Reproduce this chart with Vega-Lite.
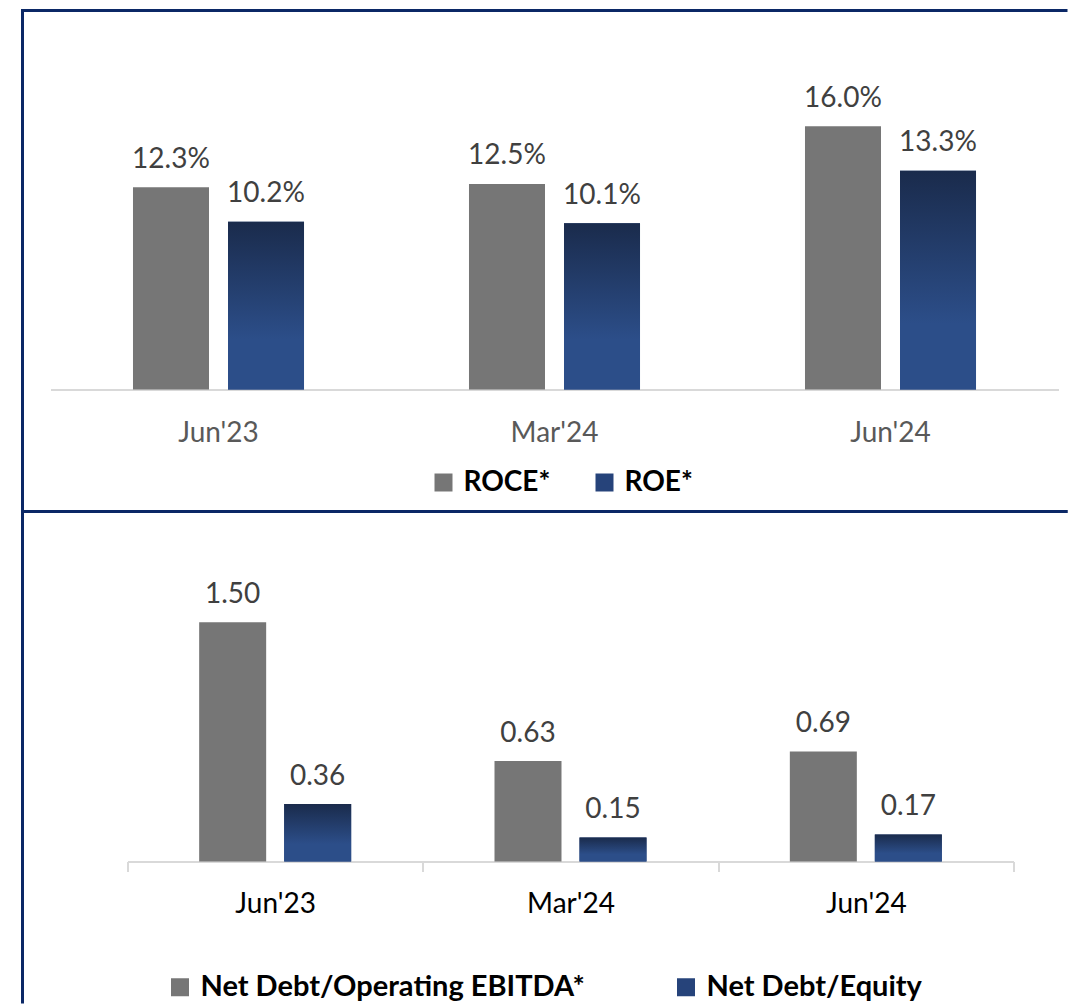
{
  "$schema": "https://vega.github.io/schema/vega-lite/v6.json",
  "padding": {"left": 20.5, "top": 8.5, "right": 0, "bottom": 0},
  "spacing": 0,
  "bounds": "flush",
  "config": {"font": "Lato", "background": "#ffffff"},
  "resolve": {"scale": {"color": "independent", "x": "independent", "y": "independent", "xOffset": "independent"}, "legend": {"color": "independent"}},
  "vconcat": [
    {
      "width": 1045,
      "height": 501,
      "view": {"stroke": "#0b2866", "strokeWidth": 3, "strokeDash": [1045, 501, 1546]},
      "data": {"values": [
        {"period": "Jun'23", "metric": "ROCE*", "value": 0.123},
        {"period": "Jun'23", "metric": "ROE*", "value": 0.102},
        {"period": "Mar'24", "metric": "ROCE*", "value": 0.125},
        {"period": "Mar'24", "metric": "ROE*", "value": 0.101},
        {"period": "Jun'24", "metric": "ROCE*", "value": 0.160},
        {"period": "Jun'24", "metric": "ROE*", "value": 0.133}
      ]},
      "encoding": {
        "x": {"field": "period", "type": "nominal", "sort": ["Jun'23", "Mar'24", "Jun'24"],
          "scale": {"range": [28, 1036], "paddingInner": 0.491, "paddingOuter": 0.2455},
          "axis": {"title": null, "labelAngle": 0, "labelFont": "Lato", "labelFontSize": 28, "labelColor": "#595959", "labelPadding": 30, "ticks": false, "domainColor": "#d9d9d9", "domainWidth": 2, "offset": -122}},
        "xOffset": {"field": "metric", "type": "nominal", "sort": ["ROCE*", "ROE*"], "scale": {"paddingInner": 0.2, "paddingOuter": 0}},
        "y": {"field": "value", "type": "quantitative", "scale": {"domain": [-0.07416, 0.2304], "nice": false, "zero": false}, "axis": null}
      },
      "layer": [
        {
          "mark": {"type": "bar"},
          "encoding": {
            "y2": {"datum": 0},
            "color": {"field": "metric", "type": "nominal",
              "scale": {"domain": ["ROCE*", "ROE*"], "range": ["#767676", "#26437a"]},
              "legend": {"orient": "none", "legendX": 407, "legendY": 458, "direction": "horizontal", "title": null, "symbolType": "square", "symbolSize": 324, "symbolStrokeWidth": 0, "labelFont": "Lato", "labelFontSize": 28, "labelFontWeight": "bold", "labelColor": "#000000", "labelOffset": 6, "labelLimit": 0, "columnPadding": 40, "padding": 0}}
          }
        },
        {
          "transform": [{"filter": "datum.metric === 'ROE*'"}],
          "mark": {"type": "bar", "color": {"gradient": "linear", "x1": 0, "y1": 0, "x2": 0, "y2": 1, "stops": [{"offset": 0, "color": "#1a2b4c"}, {"offset": 0.7, "color": "#2c4e89"}, {"offset": 1, "color": "#2c4e89"}]}},
          "encoding": {"y2": {"datum": 0}}
        },
        {
          "mark": {"type": "text", "dy": -19.5, "baseline": "alphabetic", "fontSize": 28, "color": "#404040", "font": "Lato"},
          "encoding": {"text": {"field": "value", "type": "quantitative", "format": ".1%"}}
        }
      ]
    },
    {
      "width": 1045,
      "height": 492,
      "view": {"stroke": "#0b2866", "strokeWidth": 3, "strokeDash": [1045, 1537, 492]},
      "data": {"values": [
        {"period": "Jun'23", "metric": "Net Debt/Operating EBITDA*", "value": 1.50},
        {"period": "Jun'23", "metric": "Net Debt/Equity", "value": 0.36},
        {"period": "Mar'24", "metric": "Net Debt/Operating EBITDA*", "value": 0.63},
        {"period": "Mar'24", "metric": "Net Debt/Equity", "value": 0.15},
        {"period": "Jun'24", "metric": "Net Debt/Operating EBITDA*", "value": 0.69},
        {"period": "Jun'24", "metric": "Net Debt/Equity", "value": 0.17}
      ]},
      "encoding": {
        "x": {"field": "period", "type": "nominal", "sort": ["Jun'23", "Mar'24", "Jun'24"],
          "scale": {"range": [105, 991], "paddingInner": 0, "paddingOuter": 0},
          "axis": {"title": null, "labelAngle": 0, "labelFont": "Lato", "labelFontSize": 28, "labelColor": "#000000", "labelPadding": 19, "ticks": true, "tickBand": "extent", "tickSize": 10, "tickColor": "#d9d9d9", "tickWidth": 2, "domainColor": "#d9d9d9", "domainWidth": 2, "offset": -142}},
        "xOffset": {"field": "metric", "type": "nominal", "sort": ["Net Debt/Operating EBITDA*", "Net Debt/Equity"], "scale": {"paddingInner": 0.2118, "paddingOuter": 0.8431}},
        "y": {"field": "value", "type": "quantitative", "scale": {"domain": [-0.89, 2.194], "nice": false, "zero": false}, "axis": null}
      },
      "layer": [
        {
          "mark": {"type": "bar"},
          "encoding": {
            "y2": {"datum": 0},
            "color": {"field": "metric", "type": "nominal",
              "scale": {"domain": ["Net Debt/Operating EBITDA*", "Net Debt/Equity"], "range": ["#767676", "#26437a"]},
              "legend": {"orient": "none", "legendX": 143, "legendY": 461, "direction": "horizontal", "title": null, "symbolType": "square", "symbolSize": 324, "symbolStrokeWidth": 0, "labelFont": "Lato", "labelFontSize": 29, "labelFontWeight": "bold", "labelColor": "#000000", "labelOffset": 6, "labelLimit": 0, "columnPadding": 86, "padding": 0}}
          }
        },
        {
          "transform": [{"filter": "datum.metric === 'Net Debt/Equity'"}],
          "mark": {"type": "bar", "color": {"gradient": "linear", "x1": 0, "y1": 0, "x2": 0, "y2": 1, "stops": [{"offset": 0, "color": "#1a2b4c"}, {"offset": 0.7, "color": "#2c4e89"}, {"offset": 1, "color": "#2c4e89"}]}},
          "encoding": {"y2": {"datum": 0}}
        },
        {
          "mark": {"type": "text", "dy": -19.5, "baseline": "alphabetic", "fontSize": 28, "color": "#404040", "font": "Lato"},
          "encoding": {"text": {"field": "value", "type": "quantitative", "format": ".2f"}}
        }
      ]
    }
  ]
}
